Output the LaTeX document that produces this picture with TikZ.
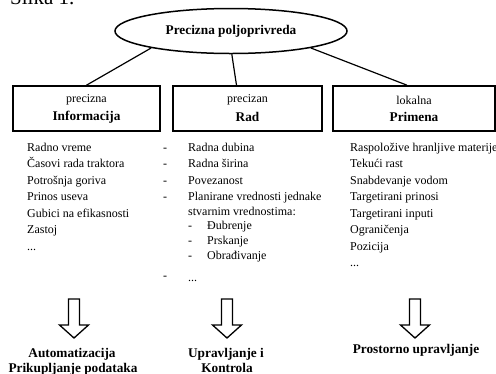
\documentclass[tikz,border=0pt]{standalone}
\usepackage{fontspec}
\setmainfont{Liberation Serif}
\usetikzlibrary{shapes.geometric,calc}
\begin{document}
\begin{tikzpicture}[x=1pt,y=-1pt,
  ttl/.style={font=\fontsize{13.3}{15}\selectfont\bfseries},
  itm/.style={font=\fontsize{12}{14}\selectfont, anchor=base west, inner sep=0pt},
  box/.style={draw, line width=1.6pt, minimum width=#1, minimum height=45pt, inner sep=0pt},
  conn/.style={line width=1.2pt},
  barrow/.style={draw, line width=1.3pt, line join=miter}]
\useasboundingbox (0,0) rectangle (496,373);
\node[anchor=base west, inner sep=0pt, font=\fontsize{21}{24}\selectfont] (slika) at (10,4) {Slika 1.};
\node[draw, ellipse, line width=1.5pt, minimum width=232pt, minimum height=45pt, inner sep=0pt, ttl] (e) at (231,31) {Precizna poljoprivreda};
\node[box=147pt] (b1) at (86.5,108.5) {};
\node[box=149pt] (b2) at (247.5,108.5) {};
\node[box=162pt] (b3) at (414,108.5) {};
\node[font=\fontsize{12}{14}\selectfont] (t1a) at (86.5,100) {precizna};
\node[ttl] (t1b) at (86.5,117) {Informacija};
\node[font=\fontsize{12}{14}\selectfont] (t2a) at (247.5,100) {precizan};
\node[ttl] (t2b) at (247.5,117) {Rad};
\node[font=\fontsize{12}{14}\selectfont] (t3a) at (414,100) {lokalna};
\node[ttl] (t3b) at (414,117) {Primena};
\draw[conn] (e.192) -- (b1.north);
\draw[conn] (e.-88) -- ($(b2.north)+(-11,0)$);
\draw[conn] (e.-12) -- ($(b3.north)+(-7,0)$);
% left list
\foreach \t [count=\i from 0] in {Radno vreme,Časovi rada traktora,Potrošnja goriva,Prinos useva,Gubici na efikasnosti,Zastoj}
  \node[itm] (l\i) at (27,151+16.5*\i) {\t};
\node[itm] (l6) at (27,250) {...};
% right list
\foreach \t [count=\i from 0] in {Raspoložive hranljive materije,Tekući rast,Snabdevanje vodom,Targetirani prinosi,Targetirani inputi,Ograničenja,Pozicija}
  \node[itm] (r\i) at (350,151+16.5*\i) {\t};
\node[itm] (r7) at (350,266.5) {...};
% middle list
\foreach \t [count=\i from 0] in {Radna dubina,Radna širina,Povezanost,Planirane vrednosti jednake}{
  \node[itm] (md\i) at (163,151+16.5*\i) {-};
  \node[itm] (m\i) at (188,151+16.5*\i) {\t};}
\node[itm] (m4) at (188,215.2) {stvarnim vrednostima:};
\foreach \t/\y [count=\i from 5] in {Đubrenje/229.9,Prskanje/244.6,Obrađivanje/259.3}{
  \node[itm] (md\i) at (188,\y) {-};
  \node[itm] (m\i) at (207,\y) {\t};}
\node[itm] (md8) at (163,279) {-};
\node[itm] (m8) at (188,281) {...};
% block arrows
\foreach \cx [count=\i] in {74,227,415}
  \draw[barrow] (\cx-5.5,299) -- (\cx+5.5,299) -- (\cx+5.5,325) -- (\cx+14.5,325) -- (\cx,338) -- (\cx-14.5,325) -- (\cx-5.5,325) -- cycle;
% bottom labels
\node[ttl, anchor=base, inner sep=0pt] (a1) at (72,357) {Automatizacija};
\node[ttl, anchor=base, inner sep=0pt] (a2) at (73,372) {Prikupljanje podataka};
\node[ttl, anchor=base, inner sep=0pt] (c1) at (226,357) {Upravljanje i};
\node[ttl, anchor=base, inner sep=0pt] (c2) at (227,372) {Kontrola};
\node[ttl, anchor=base, inner sep=0pt] (p1) at (416,353) {Prostorno upravljanje};
\end{tikzpicture}
\end{document}
